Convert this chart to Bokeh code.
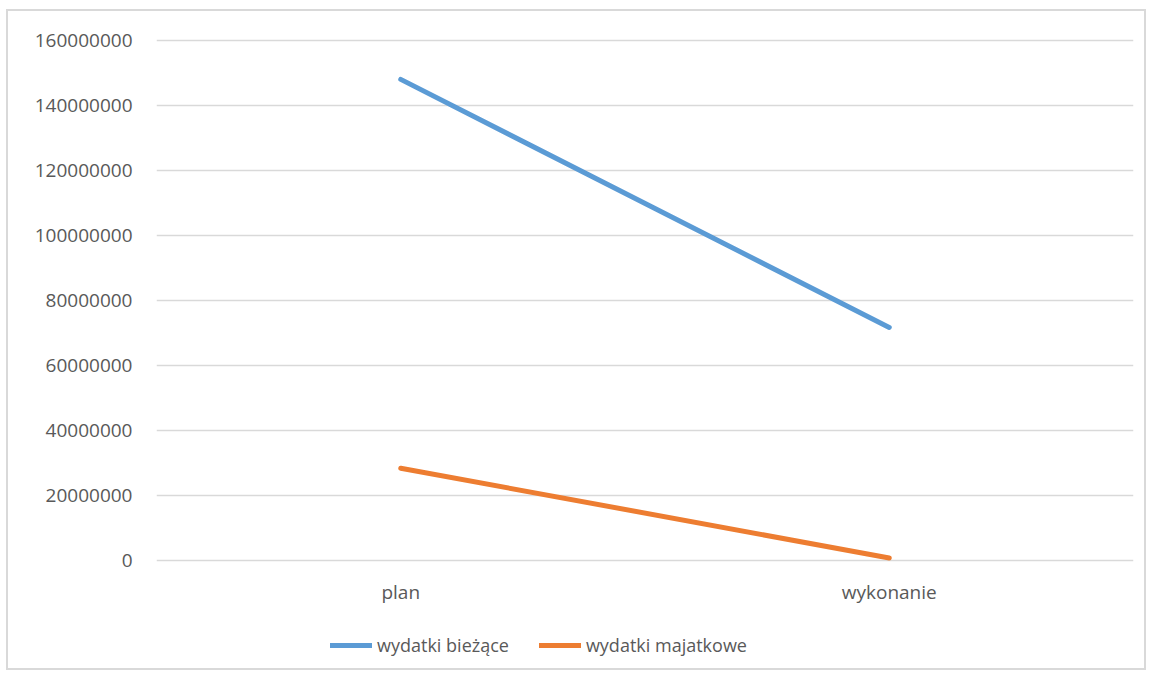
from bokeh.plotting import figure
from bokeh.models import Range1d, FactorRange, FixedTicker, NumeralTickFormatter, Legend, LegendItem
from bokeh.embed import file_html
from bokeh.resources import INLINE

categories = ["plan", "wykonanie"]
wydatki_biezace = [148000000, 71700000]
wydatki_majatkowe = [28400000, 800000]
y_ticks = [0, 20000000, 40000000, 60000000, 80000000, 100000000, 120000000, 140000000, 160000000]

FONT = "Open Sans"
TXT = "#595959"

p = figure(frame_width=977, frame_height=633, output_backend="svg", toolbar_location=None,
           x_range=FactorRange(*categories, range_padding=0),
           y_range=Range1d(-33.2e6, 161.5e6),
           min_border_left=148, min_border_right=11, min_border_top=24, min_border_bottom=0,
           styles={"border": "2px solid #d9d9d9", "margin-left": "6px", "margin-top": "9px"})
p.outline_line_color = None
p.background_fill_color = "white"
p.border_fill_color = "white"

r1 = p.line(categories, wydatki_biezace, line_color="#5b9bd5", line_width=5, line_cap="round")
r2 = p.line(categories, wydatki_majatkowe, line_color="#ed7d31", line_width=5, line_cap="round")

p.xgrid.grid_line_color = None
p.ygrid.grid_line_color = "#d9d9d9"
p.ygrid.grid_line_width = 1.3
p.yaxis.ticker = FixedTicker(ticks=y_ticks)
p.yaxis.formatter = NumeralTickFormatter(format="0")

for ax in (p.xaxis, p.yaxis):
    ax.axis_line_color = None
    ax.major_tick_line_color = None
    ax.minor_tick_line_color = None
    ax.major_label_text_font = FONT
    ax.major_label_text_font_size = "19px"
    ax.major_label_text_color = TXT
p.yaxis.major_label_standoff = 18
p.xaxis.major_label_standoff = 12
p.xaxis.fixed_location = 0

legend = Legend(items=[LegendItem(label="wydatki bieżące", renderers=[r1]),
                       LegendItem(label="wydatki majatkowe", renderers=[r2])],
                orientation="horizontal", location=(174, 11),
                border_line_color=None, background_fill_alpha=0,
                label_text_font=FONT, label_text_font_size="18px", label_text_color=TXT,
                glyph_width=42, label_standoff=5, spacing=30, margin=0, padding=6)
p.add_layout(legend, "center")

open("out.html", "w").write(file_html(p, INLINE))
